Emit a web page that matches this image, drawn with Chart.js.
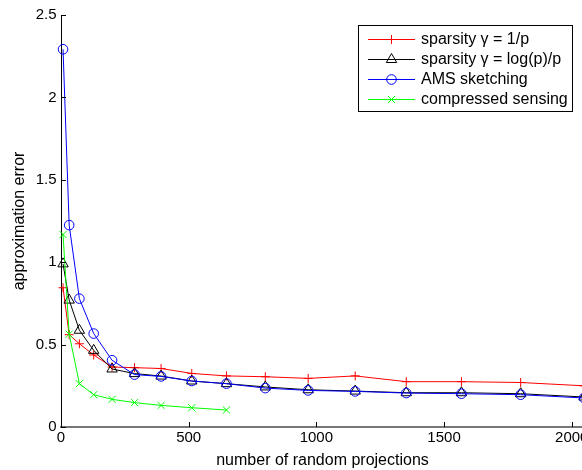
<!DOCTYPE html>
<html>
<head>
<meta charset="utf-8">
<style>
  html, body { margin: 0; padding: 0; background: #fff; overflow: hidden; }
  #wrap { width: 600px; height: 476px; }
</style>
<script src="https://cdn.jsdelivr.net/npm/chart.js@4.4.1/dist/chart.umd.min.js"></script>
</head>
<body>
<div id="wrap"><canvas id="c" width="600" height="476"></canvas></div>
<script>
// Number of random projections used for each run
const projections = [8, 32, 72, 128, 200, 288, 392, 512, 648, 800, 968, 1152, 1352, 1568, 1800, 2048];

// Approximation error for each method
const sparsityInvP   = [0.845, 0.56, 0.505, 0.437, 0.364, 0.36, 0.355, 0.325, 0.31, 0.305, 0.295, 0.31, 0.275, 0.275, 0.27, 0.25];
const sparsityLogP   = [0.99, 0.77, 0.587, 0.465, 0.352, 0.324, 0.309, 0.279, 0.263, 0.243, 0.226, 0.218, 0.208, 0.208, 0.202, 0.182];
const amsSketching   = [2.292, 1.225, 0.779, 0.567, 0.405, 0.318, 0.307, 0.279, 0.263, 0.236, 0.222, 0.216, 0.206, 0.202, 0.196, 0.176];
const compressedSens = [1.168, 0.563, 0.263, 0.196, 0.168, 0.148, 0.131, 0.117, 0.103];

const seriesLabels = ['sparsity \u03B3 = 1/p', 'sparsity \u03B3 = log(p)/p', 'AMS sketching', 'compressed sensing'];

// Axis ticks
const xTicks = [0, 500, 1000, 1500, 2000];
const yTicks = [0, 0.5, 1, 1.5, 2, 2.5];
const yTickLabels = ['0', '0.5', '1', '1.5', '2', '2.5'];

const FONT = '"Liberation Sans", Arial, Helvetica, sans-serif';

function points(vals) {
  return vals.map((v, i) => ({ x: projections[i], y: v }));
}

// Short tick marks drawn inward from the axis lines
const innerTicks = {
  id: 'innerTicks',
  afterDatasetsDraw(chart) {
    const { ctx, chartArea: a, scales: { x, y } } = chart;
    ctx.save();
    ctx.strokeStyle = '#000';
    ctx.lineWidth = 1;
    ctx.beginPath();
    x.ticks.forEach(t => {
      const px = Math.round(x.getPixelForValue(t.value)) + 0.5;
      ctx.moveTo(px, a.bottom);
      ctx.lineTo(px, a.bottom - 5);
    });
    y.ticks.forEach(t => {
      const py = Math.round(y.getPixelForValue(t.value)) + 0.5;
      ctx.moveTo(a.left, py);
      ctx.lineTo(a.left + 5, py);
    });
    ctx.stroke();
    ctx.restore();
  }
};

// Boxed legend with line + marker samples
const boxLegend = {
  id: 'boxLegend',
  afterDraw(chart) {
    const { ctx } = chart;
    const bx = 358.5, by = 25.5, bw = 214, bh = 86;
    ctx.save();
    ctx.fillStyle = '#fff';
    ctx.fillRect(bx, by, bw, bh);
    ctx.strokeStyle = '#000';
    ctx.lineWidth = 1;
    ctx.strokeRect(bx, by, bw, bh);
    chart.data.datasets.forEach((ds, i) => {
      const cy = Math.round(39 + i * 20.1) + 0.5;
      ctx.strokeStyle = ds.borderColor;
      ctx.lineWidth = 1;
      ctx.beginPath();
      ctx.moveTo(368, cy);
      ctx.lineTo(415, cy);
      ctx.stroke();
      ctx.fillStyle = 'rgba(0,0,0,0)';
      Chart.helpers.drawPoint(ctx, {
        pointStyle: ds.pointStyle, radius: ds.pointRadius, borderWidth: 1, rotation: 0
      }, 391.5, cy);
      ctx.fillStyle = '#000';
      ctx.font = '16px ' + FONT;
      ctx.textBaseline = 'middle';
      ctx.textAlign = 'left';
      ctx.fillText(ds.label, 421, cy);
    });
    ctx.restore();
  }
};

const common = { borderWidth: 1, pointBorderWidth: 1, tension: 0, clip: false,
                 pointBackgroundColor: 'rgba(0,0,0,0)', pointHoverRadius: 5 };

new Chart(document.getElementById('c'), {
  type: 'line',
  data: {
    datasets: [
      { ...common, label: seriesLabels[0], data: points(sparsityInvP), borderColor: '#ff0000',
        pointBorderColor: '#ff0000', pointStyle: 'cross', pointRadius: 4.5, order: 3 },
      { ...common, label: seriesLabels[1], data: points(sparsityLogP), borderColor: '#000000',
        pointBorderColor: '#000000', pointStyle: 'triangle', pointRadius: 6, order: 2 },
      { ...common, label: seriesLabels[2], data: points(amsSketching), borderColor: '#0000ff',
        pointBorderColor: '#0000ff', pointStyle: 'circle', pointRadius: 4.8, order: 1 },
      { ...common, label: seriesLabels[3], data: points(compressedSens), borderColor: '#00ff00',
        pointBorderColor: '#00ff00', pointStyle: 'crossRot', pointRadius: 5, order: 0 }
    ]
  },
  options: {
    responsive: false,
    animation: false,
    events: [],
    layout: { padding: { top: 15, right: 16, left: 0, bottom: 0 } },
    plugins: { legend: { display: false }, tooltip: { enabled: false } },
    scales: {
      x: {
        type: 'linear', min: 0, max: 2048,
        afterFit(s) { s.height = 49; },
        afterBuildTicks(s) { s.ticks = xTicks.map(v => ({ value: v })); },
        grid: { display: false, drawTicks: false },
        border: { display: true, color: '#777', width: 2 },
        ticks: { color: '#000', padding: 3, font: { family: FONT, size: 15, lineHeight: 1 }, maxRotation: 0,
                 callback: v => String(v) },
        title: { display: true, text: 'number of random projections', color: '#000',
                 padding: { top: 6, bottom: 6 }, font: { family: FONT, size: 16 } }
      },
      y: {
        type: 'linear', min: 0, max: 2.5,
        afterFit(s) { s.width = 61; },
        afterBuildTicks(s) { s.ticks = yTicks.map(v => ({ value: v })); },
        grid: { display: false, drawTicks: false },
        border: { display: true, color: '#000', width: 1 },
        ticks: { color: '#000', padding: 4.5, font: { family: FONT, size: 15, lineHeight: 1 },
                 callback: (v) => yTickLabels[yTicks.indexOf(v)] },
        title: { display: true, text: 'approximation error', color: '#000',
                 padding: { top: 10, bottom: 0 }, font: { family: FONT, size: 16 } }
      }
    }
  },
  plugins: [innerTicks, boxLegend]
});
</script>
</body>
</html>
